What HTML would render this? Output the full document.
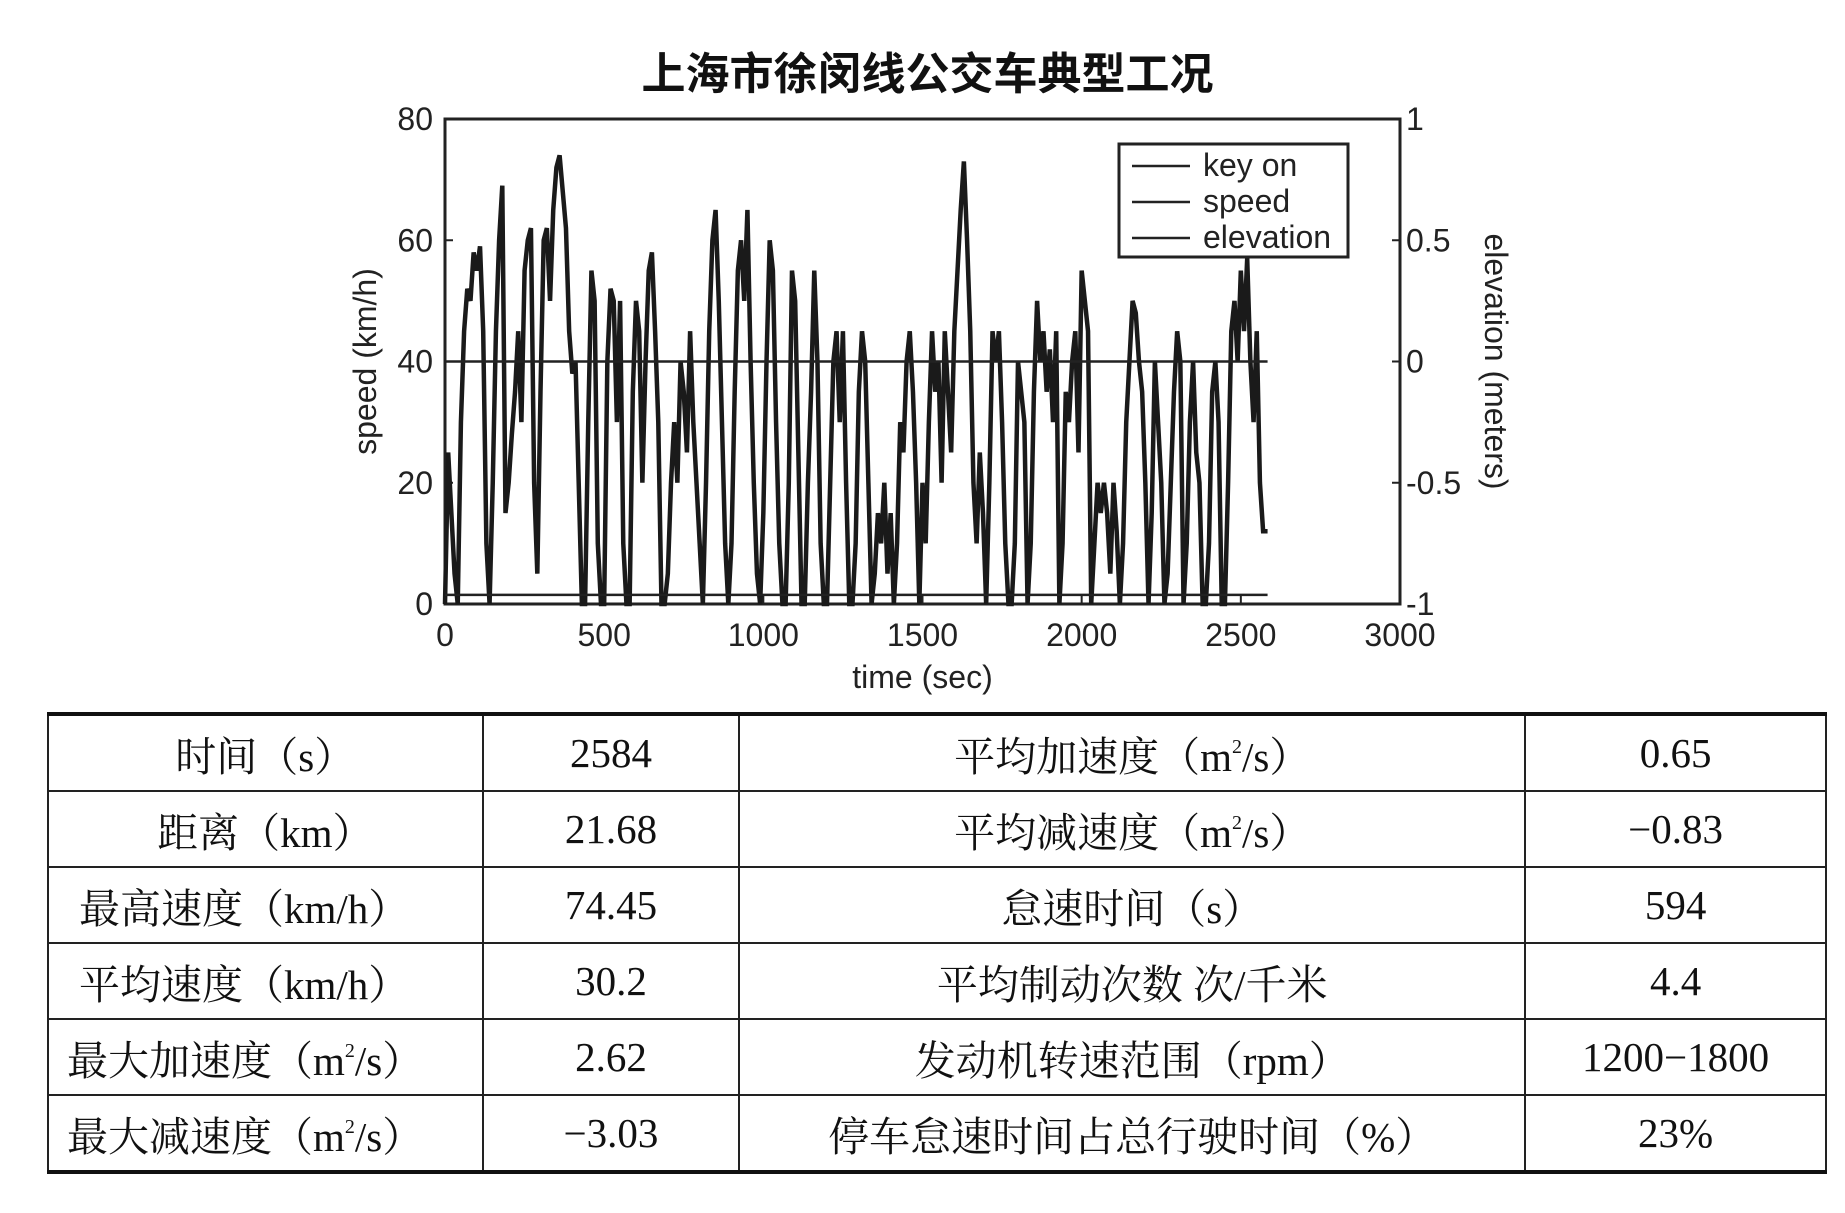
<!DOCTYPE html>
<html><head><meta charset="utf-8">
<style>
body{margin:0;background:#fff;}
#wrap{position:relative;width:1845px;height:1213px;background:#fff;overflow:hidden;font-family:"Liberation Sans","Noto Sans CJK SC",sans-serif;}
#title{position:absolute;left:0;width:1855px;top:38px;text-align:center;font-size:44px;font-weight:bold;color:#111;font-family:"Liberation Sans","Noto Sans CJK SC",sans-serif;}
table{position:absolute;left:47px;top:712px;width:1780px;border-collapse:collapse;font-family:"Liberation Serif","Noto Serif CJK SC",serif;font-size:41px;color:#111;}
td{border:2px solid #222;height:74px;text-align:center;padding:0;}
tr:first-child td{border-top:4px solid #111}
tr:last-child td{border-bottom:4px solid #111}
sup{font-size:20px;vertical-align:18px;}
</style></head>
<body>
<div id="wrap">
<div id="title">上海市徐闵线公交车典型工况</div>
<svg id="chart" width="1845" height="700" style="position:absolute;left:0;top:0"></svg>
<table>
<colgroup><col style="width:435px"><col style="width:257px"><col style="width:787px"><col style="width:301px"></colgroup>
<tr><td>时间（s）</td><td>2584</td><td>平均加速度（m<sup>2</sup>/s）</td><td>0.65</td></tr>
<tr><td>距离（km）</td><td>21.68</td><td>平均减速度（m<sup>2</sup>/s）</td><td>−0.83</td></tr>
<tr><td style="text-align:left;padding-left:30px">最高速度（km/h）</td><td>74.45</td><td>怠速时间（s）</td><td>594</td></tr>
<tr><td style="text-align:left;padding-left:30px">平均速度（km/h）</td><td>30.2</td><td>平均制动次数 次/千米</td><td>4.4</td></tr>
<tr><td style="text-align:left;padding-left:18px">最大加速度（m<sup>2</sup>/s）</td><td>2.62</td><td>发动机转速范围（rpm）</td><td>1200−1800</td></tr>
<tr><td style="text-align:left;padding-left:18px">最大减速度（m<sup>2</sup>/s）</td><td>−3.03</td><td>停车怠速时间占总行驶时间（%）</td><td>23%</td></tr>
</table>
</div>
<script>
const xTicks=[0,500,1000,1500,2000,2500,3000];
const yTicks=[0,20,40,60,80];
const elevTicks=[-1,-0.5,0,0.5,1];
const sampleInterval=10;
const cycleEnd=2584;
const speedValues=[
0,25,15,5,0,30,45,52,50,58,
55,59,45,10,0,20,45,60,69,15,
20,28,35,45,30,55,60,62,20,5,
35,60,62,50,65,72,74,68,62,45,
38,40,20,0,0,30,55,50,10,0,
0,40,52,50,30,50,10,0,0,35,
50,45,20,40,55,58,45,30,0,0,
5,20,30,20,40,35,25,45,30,20,
10,0,20,45,60,65,50,30,10,0,
10,35,55,60,50,65,40,20,5,0,
15,40,60,55,30,10,0,0,20,55,
50,25,0,0,20,35,55,40,10,0,
0,20,40,45,30,45,20,0,0,10,
35,45,40,20,0,5,15,10,20,5,
15,0,10,30,25,40,45,35,20,0,
20,10,30,45,35,40,20,45,35,25,
45,55,65,73,60,45,20,10,25,15,
0,20,45,40,45,30,10,0,0,10,
40,35,30,0,10,35,50,40,45,35,
42,30,45,0,10,35,30,40,45,25,
55,50,45,0,10,20,15,20,15,5,
20,12,0,10,30,40,50,48,40,35,
20,0,15,40,30,20,0,5,20,35,
45,40,0,10,30,40,25,20,0,0,
10,35,40,30,0,0,20,45,50,40,
55,45,57,40,30,45,20,12,12,12];
const elevTimes=[0,2584];
const elevValues=[0,0];
const keyTimes=[0,2584];
const keyValues=[1.5,1.5];

const svg=document.getElementById('chart');
const NS='http://www.w3.org/2000/svg';
const L=445,R=1400,T=119,B=604;
const xs=t=>L+t/3000*(R-L);
const ys=v=>B-v/80*(B-T);
const ye=e=>B-(e+1)/2*(B-T);
function mk(tag,attrs,parent){const e=document.createElementNS(NS,tag);for(const k in attrs)e.setAttribute(k,attrs[k]);(parent||svg).appendChild(e);return e;}
const frame=mk('rect',{x:L,y:T,width:R-L,height:B-T,fill:'none',stroke:'#222','stroke-width':3});


const FS='font-family:"Liberation Sans",sans-serif;font-size:32px;fill:#222';
xTicks.forEach(t=>{
  mk('line',{x1:xs(t),x2:xs(t),y1:B,y2:B-8,stroke:'#222','stroke-width':2});
  const tx=mk('text',{x:xs(t),y:B+42,'text-anchor':'middle',style:FS});tx.textContent=t;
  
  
});
yTicks.forEach(v=>{
  mk('line',{x1:L,x2:L+8,y1:ys(v),y2:ys(v),stroke:'#222','stroke-width':2});
  const tx=mk('text',{x:L-12,y:ys(v)+11,'text-anchor':'end',style:FS});tx.textContent=v;
  
  
});
elevTicks.forEach(v=>{
  mk('line',{x1:R,x2:R-8,y1:ye(v),y2:ye(v),stroke:'#222','stroke-width':2});
  const tx=mk('text',{x:R+6,y:ye(v)+11,'text-anchor':'start',style:FS});tx.textContent=v;
  
  
});
let xl=mk('text',{x:(L+R)/2,y:B+84,'text-anchor':'middle',style:FS});xl.textContent='time (sec)';


let yl=mk('text',{x:0,y:0,'text-anchor':'middle',style:FS,transform:`translate(376,${(T+B)/2}) rotate(-90)`});yl.textContent='speed (km/h)';


let y2=mk('text',{x:0,y:0,'text-anchor':'middle',style:FS,transform:`translate(1485,${(T+B)/2}) rotate(90)`});y2.textContent='elevation (meters)';


const pts=[];
speedValues.forEach((v,i)=>{const t=Math.min(i*sampleInterval,cycleEnd);pts.push(xs(t)+','+ys(v));});
const sp=mk('polyline',{points:pts.join(' '),fill:'none',stroke:'#1a1a1a','stroke-width':4.5,'stroke-linejoin':'miter'});


const el=mk('polyline',{points:elevTimes.map((t,i)=>xs(t)+','+ye(elevValues[i])).join(' '),fill:'none',stroke:'#222','stroke-width':2.5});


const ko=mk('polyline',{points:keyTimes.map((t,i)=>xs(t)+','+ys(keyValues[i])).join(' '),fill:'none',stroke:'#222','stroke-width':2.5});


const lg=mk('g',{});


mk('rect',{x:1119,y:144,width:229,height:113,fill:'#fff',stroke:'#222','stroke-width':3},lg);
['key on','speed','elevation'].forEach((s,i)=>{
  const yy=166+i*36;
  mk('line',{x1:1132,x2:1190,y1:yy,y2:yy,stroke:'#222','stroke-width':2.5},lg);
  const t=mk('text',{x:1203,y:yy+10,style:FS},lg);t.textContent=s;
  
  
});
</script>
</body></html>
